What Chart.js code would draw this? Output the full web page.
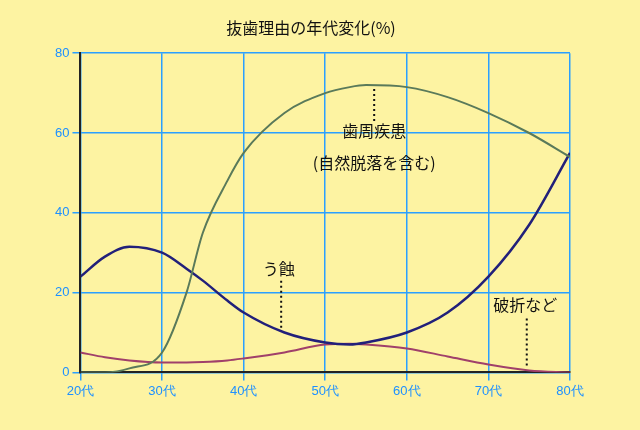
<!DOCTYPE html>
<html><head><meta charset="utf-8">
<script src="https://cdn.jsdelivr.net/npm/chart.js@4"></script>
<style>
body{margin:0;background:#fdf3a2;}
#wrap{width:640px;height:430px;position:relative;}
</style></head>
<body><div id="wrap"><canvas id="graf" width="640" height="430"></canvas></div>
<script>
// 年代
var ages = [20,23,26,30,33,35,38,40,45,50,53,55,60,65,70,75,80];
// 歯周疾患
var shushu = [0,0,1,5,20,35,48,55,65,70,71.5,72,71.5,69,65,60,54];
// う蝕
var ushoku = [24,29,31.5,30,26,23,18,15,10,7.5,7,7.5,10,15,24,37,55];
// 破折など
var hasetsu = [5,3.8,3,2.5,2.5,2.6,3,3.5,5,7,7.2,7,6,4,2,0.5,0];
var yTicks = [0,20,40,60,80];

function pts(v){ return ages.map(function(a,i){ return {x:a,y:v[i]}; }); }

// 注記(データ座標)
var notes = [
  {text:'歯周疾患', x:56, y:60.5, lx:56, y1:71, y2:63},
  {text:'(自然脱落を含む)', x:56, y:52.5},
  {text:'う蝕', x:44.3, y:26, lx:44.6, y1:23, y2:11},
  {text:'破折など', x:74.5, y:17, lx:74.7, y1:13.5, y2:1}
];

var annot = {
  id:'annot',
  afterDatasetsDraw: function(chart){
    var c = chart.ctx, xs = chart.scales.x, ys = chart.scales.y;
    c.save();
    c.fillStyle = '#111';
    c.font = '16px "Noto Sans CJK JP"';
    c.textAlign = 'center'; c.textBaseline = 'middle';
    notes.forEach(function(n){
      c.fillText(n.text, xs.getPixelForValue(n.x), ys.getPixelForValue(n.y));
      if (n.lx !== undefined) {
        c.strokeStyle = '#111'; c.lineWidth = 2; c.setLineDash([2,3]);
        c.beginPath();
        c.moveTo(xs.getPixelForValue(n.lx), ys.getPixelForValue(n.y1));
        c.lineTo(xs.getPixelForValue(n.lx), ys.getPixelForValue(n.y2));
        c.stroke();
      }
    });
    c.restore();
  }
};

var ctx = document.getElementById('graf');
new Chart(ctx, {
  type: 'scatter',
  data: {
    datasets: [
      {data: pts(shushu), borderColor:'#5a7a5a', borderWidth:2},
      {data: pts(ushoku), borderColor:'#22207a', borderWidth:2.5},
      {data: pts(hasetsu), borderColor:'#a0406a', borderWidth:2}
    ].map(function(d){ d.showLine=true; d.pointRadius=0; d.cubicInterpolationMode='monotone'; return d; })
  },
  options: {
    responsive:false, animation:false,
    layout:{padding:{left:52,right:70,top:4,bottom:28}},
    plugins:{
      legend:{display:false}, tooltip:{enabled:false},
      title:{display:true, text:'抜歯理由の年代変化(%)', color:'#111',
        font:{size:16, family:'"Noto Sans CJK JP"', weight:'normal'}, padding:{top:14,bottom:16}}
    },
    scales:{
      x:{type:'linear', min:20, max:80,
        ticks:{stepSize:10, color:'#1e90ff', font:{size:13}, maxRotation:0, callback:function(v){return v+'代';}},
        grid:{color:'#2aa0ff', lineWidth:1.5}, border:{color:'#222', width:2}},
      y:{min:0, max:80, afterBuildTicks:function(a){a.ticks=yTicks.map(function(v){return {value:v};});},
        ticks:{color:'#1e90ff', font:{size:13}},
        grid:{color:'#2aa0ff', lineWidth:1.5}, border:{color:'#222', width:2}}
    }
  },
  plugins:[annot]
});
</script></body></html>
